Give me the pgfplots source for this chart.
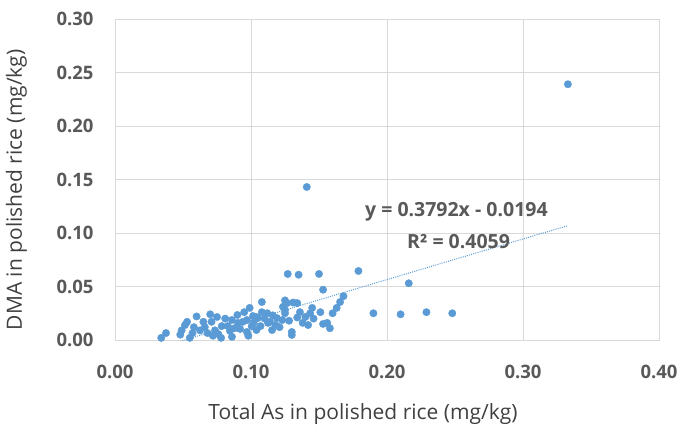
\documentclass[border=0pt]{standalone}
\usepackage{fontspec}
\setmainfont{Open Sans}
\usepackage{pgfplots}
\pgfplotsset{compat=1.18}
\definecolor{ptblue}{HTML}{5B9BD5}
\definecolor{gridc}{HTML}{D9D9D9}
\definecolor{tickc}{HTML}{595959}
\definecolor{labc}{HTML}{404040}
\begin{document}
\begin{tikzpicture}
\useasboundingbox (0,0) rectangle (682pt,428pt);
\begin{axis}[
  at={(115pt,88pt)}, anchor=south west,
  scale only axis, width=544pt, height=321pt,
  xmin=0, xmax=0.4, ymin=0, ymax=0.3,
  xtick={0,0.1,0.2,0.3,0.4},
  ytick={0,0.05,0.1,0.15,0.2,0.25,0.3},
  /pgf/number format/.cd, fixed, fixed zerofill, precision=2, assume math mode=true,
  /pgfplots/.cd,
  grid=major,
  major grid style={draw=gridc, line width=0.9pt},
  axis line style={draw=gridc, line width=0.9pt},
  major tick length=0pt,
  tick style={draw=none},
  ticklabel style={font=\bfseries\fontsize{18.5}{21}\selectfont, text=tickc},
  yticklabel shift=18pt,
  xticklabel shift=22pt,
  xlabel={Total As in polished rice (mg/kg)},
  ylabel={DMA in polished rice (mg/kg)},
  label style={font=\fontsize{21}{24}\selectfont, text=labc},
  xlabel style={at={(axis description cs:0.456,-0.249)}, anchor=base},
  ylabel style={at={(axis description cs:-0.171,0.468)}, anchor=base},
  clip=true,
]
\addplot[only marks, mark=*, mark size=3.7pt, mark options={draw=ptblue, fill=ptblue}] coordinates {
(0.034,0.002) (0.0375,0.0065) (0.048,0.005) (0.049,0.009) (0.0515,0.014)
(0.053,0.017) (0.057,0.0065) (0.060,0.022) (0.0625,0.009) (0.065,0.017)
(0.068,0.0065) (0.070,0.024) (0.071,0.017) (0.0735,0.009) (0.075,0.0215)
(0.076,0.0055) (0.078,0.002) (0.0785,0.013) (0.083,0.013) (0.0845,0.0085)
(0.086,0.0187) (0.090,0.0234) (0.0905,0.016) (0.092,0.0103) (0.094,0.017)
(0.097,0.0187) (0.097,0.0075) (0.099,0.030) (0.1005,0.013) (0.1015,0.0224)
(0.104,0.0215) (0.104,0.0093) (0.105,0.0205) (0.108,0.0355) (0.108,0.026)
(0.112,0.025) (0.1125,0.016) (0.114,0.017) (0.1155,0.0093) (0.118,0.014)
(0.119,0.0205) (0.1235,0.031) (0.1265,0.0345) (0.125,0.025) (0.123,0.0187)
(0.130,0.0075) (0.130,0.0047) (0.134,0.0345) (0.136,0.026) (0.140,0.0215)
(0.142,0.014) (0.1435,0.025) (0.151,0.026) (0.153,0.047) (0.156,0.016)
(0.158,0.011) (0.163,0.030) (0.1655,0.0355) (0.168,0.041)
(0.127,0.0617) (0.135,0.061) (0.150,0.0617) (0.179,0.0645) (0.216,0.053)
(0.190,0.025) (0.210,0.024) (0.229,0.026) (0.248,0.025)
(0.141,0.143) (0.333,0.239)
(0.131,0.035) (0.125,0.037) (0.125,0.028) (0.134,0.021) (0.153,0.015)
(0.066,0.012) (0.081,0.020) (0.088,0.011) (0.095,0.026) (0.102,0.016)
(0.107,0.013) (0.110,0.020) (0.116,0.023) (0.121,0.012) (0.128,0.018)
(0.138,0.016) (0.146,0.020) (0.072,0.004) (0.058,0.012) (0.098,0.004)
(0.086,0.003) (0.055,0.002) (0.145,0.030) (0.160,0.025)
};
\addplot[ptblue, line width=1pt, dash pattern=on 1pt off 1.2pt] coordinates {
(0.034,-0.0065) (0.333,0.1069)
};
\node[anchor=base west, font=\bfseries\fontsize{19.5}{22}\selectfont, text=tickc, inner sep=0pt]
  at (axis cs:0.1838,0.1154) {y = 0.3792x - 0.0194};
\node[anchor=base west, font=\bfseries\fontsize{19.5}{22}\selectfont, text=tickc, inner sep=0pt]
  at (axis cs:0.2147,0.0855) {R² = 0.4059};
\end{axis}
\end{tikzpicture}
\end{document}
